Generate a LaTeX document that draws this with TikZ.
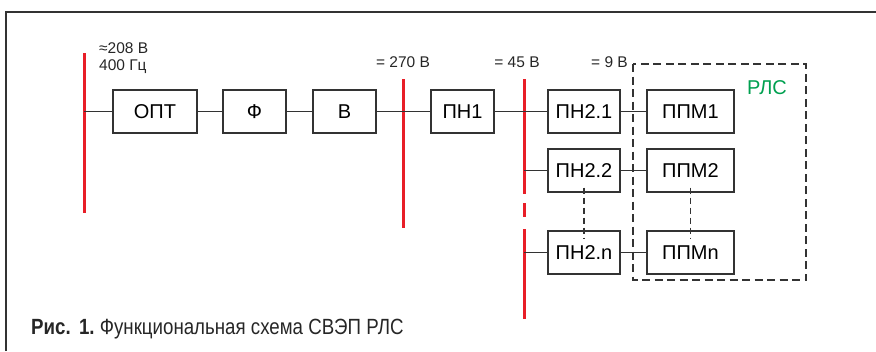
\documentclass[tikz,border=0pt]{standalone}
\usepackage{fontspec}
\setmainfont{Liberation Sans}
\definecolor{busred}{RGB}{232,30,40}
\definecolor{rlsgreen}{RGB}{0,160,80}
\begin{document}
\begin{tikzpicture}[x=1pt,y=-1pt,
  blk/.style={draw=black!80, line width=1.3pt, fill=white, minimum height=43pt, inner sep=0pt, font=\fontsize{20}{22}\selectfont},
  wire/.style={draw=black!80, line width=1.2pt},
  bus/.style={draw=busred, line width=3pt},
  lbl/.style={font=\fontsize{15.5}{17.5}\selectfont, text=black!85, inner sep=0pt},
  dsh/.style={draw=black!80, line width=1.3pt, dash pattern=on 6pt off 4pt}]
\useasboundingbox (0,0) rectangle (876,351);
% frame
\draw[draw=black!80, line width=1.3pt] (6,351) -- (6,12) -- (876,12);
% buses
\coordinate (b1t) at (84,53); \coordinate (b1b) at (84,213);
\coordinate (b2t) at (403,79); \coordinate (b2b) at (403,228);
\draw[bus] (b1t) -- (b1b);
\draw[bus] (b2t) -- (b2b);
\draw[bus] (524,79) -- (524,194);
\draw[bus] (524,203) -- (524,217);
\draw[bus] (524,229) -- (524,319);
% boxes
\node[blk, minimum width=84pt] (opt) at (155,111.5) {ОПТ};
\node[blk, minimum width=63pt] (f) at (254.5,111.5) {Ф};
\node[blk, minimum width=63pt] (v) at (344.5,111.5) {В};
\node[blk, minimum width=63pt] (pn1) at (462.5,111.5) {ПН1};
\node[blk, minimum width=72pt] (pn21) at (584,111.5) {ПН2.1};
\node[blk, minimum width=72pt] (pn22) at (584,170.5) {ПН2.2};
\node[blk, minimum width=72pt] (pn2n) at (584,252.5) {ПН2.n};
\node[blk, minimum width=87pt] (ppm1) at (690.5,111.5) {ППМ1};
\node[blk, minimum width=87pt] (ppm2) at (690.5,170.5) {ППМ2};
\node[blk, minimum width=87pt] (ppmn) at (690.5,252.5) {ППМn};
% bus tap coordinates
\coordinate (t1) at (84,111.5);
\coordinate (t3b) at (524,170.5);
\coordinate (t3c) at (524,252.5);
% wires
\draw[wire] (t1) -- (opt.west);
\draw[wire] (opt.east) -- (f.west);
\draw[wire] (f.east) -- (v.west);
\draw[wire] (v.east) -- (pn1.west);
\draw[wire] (pn1.east) -- (pn21.west);
\draw[wire] (t3b) -- (pn22.west);
\draw[wire] (t3c) -- (pn2n.west);
\draw[wire] (pn21.east) -- (ppm1.west);
\draw[wire] (pn22.east) -- (ppm2.west);
\draw[wire] (pn2n.east) -- (ppmn.west);
% dotted continuations
\draw[dsh, line width=1.4pt, dash pattern=on 6pt off 4pt] ([yshift=5pt]pn22.south) -- ([yshift=-8pt]pn2n.north);
\draw[dsh, line width=1.4pt, dash pattern=on 6pt off 4pt] ([yshift=5pt]ppm2.south) -- ([yshift=-8pt]ppmn.north);
% RLS dashed box
\draw[dsh, line width=1.8pt, dash pattern=on 8pt off 4.5pt] (633,64) rectangle (806,280);
\node[font=\fontsize{20}{22}\selectfont, text=rlsgreen, inner sep=0pt] (rls) at (767,88) {РЛС};
% labels
\node[lbl, anchor=north west, align=left] (l1) at (99,42) {≈208 В\\[0pt]400 Гц};
\node[lbl, anchor=base] (l2) at (403,67) {= 270 В};
\node[lbl, anchor=base] (l3) at (517,67) {= 45 В};
\node[lbl, anchor=base east] (l4) at (628,67) {= 9 В};
% caption
\node[anchor=base west, inner sep=0pt, text=black!85] (cap) at (31,334)
  {\scalebox{0.85}[1]{\fontsize{22}{24}\selectfont\textbf{Рис.\ \,1.}\ Функциональная схема СВЭП РЛС}};
\end{tikzpicture}
\end{document}
